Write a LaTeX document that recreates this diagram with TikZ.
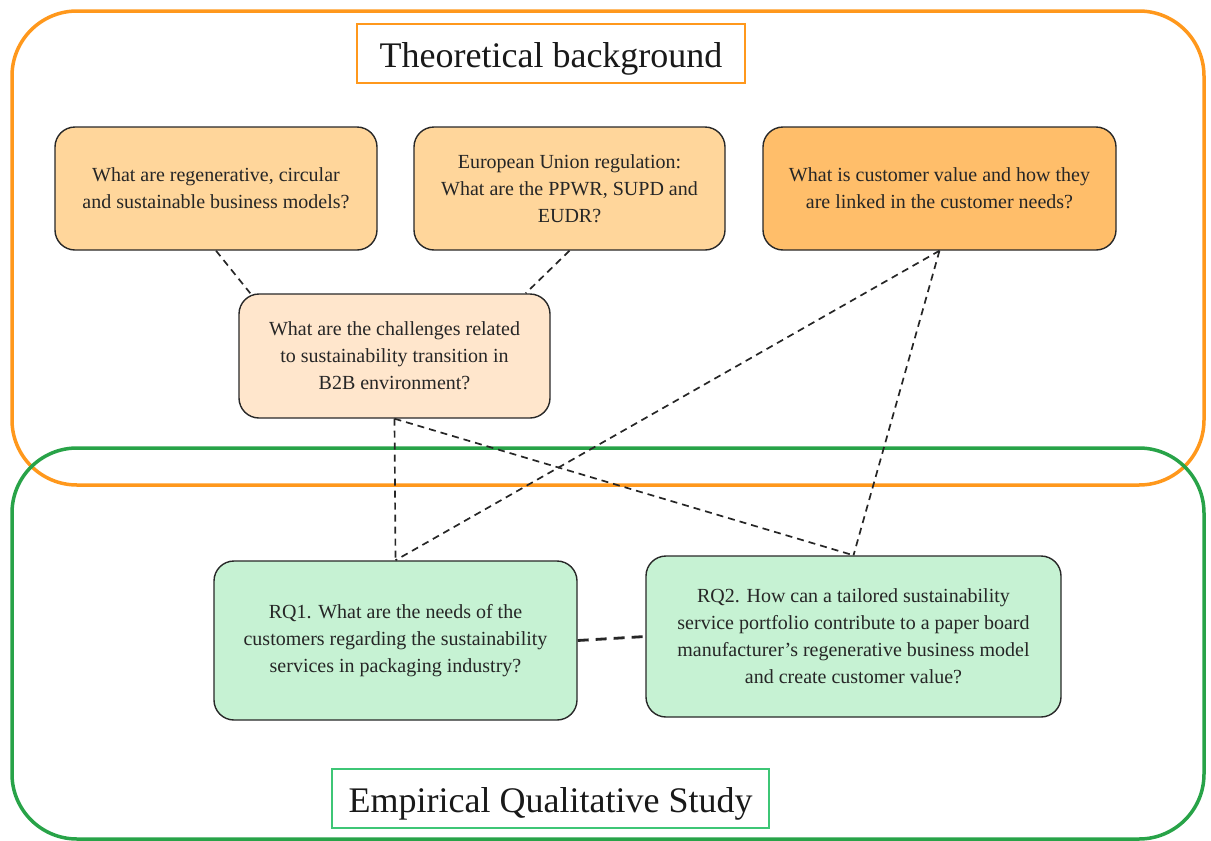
\documentclass[tikz,border=0pt]{standalone}
\usepackage{fontspec}
\setmainfont{Liberation Serif}
\definecolor{outerorange}{RGB}{255,152,28}
\definecolor{outergreen}{RGB}{40,163,72}
\definecolor{titlegreen}{RGB}{62,198,118}
\definecolor{fillA}{RGB}{255,214,155}
\definecolor{fillC}{RGB}{255,190,106}
\definecolor{fillD}{RGB}{255,230,204}
\definecolor{fillG}{RGB}{198,242,211}
\definecolor{edge}{RGB}{40,40,40}
\begin{document}
\begin{tikzpicture}[x=1pt,y=1pt,
  region/.style={line width=3.5pt,rounded corners=65pt},
  qbox/.style={draw=edge,line width=1.4pt,rounded corners=20pt,align=center,inner sep=0pt,
    font=\fontsize{20}{27}\selectfont,text=black!85},
  titlebox/.style={line width=1.3pt,inner sep=0pt,text height=28pt,text depth=0pt,
    font=\fontsize{36}{40}\selectfont,text=black!90},
  link/.style={draw=black!85,line width=1.7pt,dash pattern=on 7pt off 5pt},
  thicklink/.style={draw=black!85,line width=2.8pt,dash pattern=on 11pt off 7pt}]
\useasboundingbox (0,0) rectangle (1211,-841);
% regions
\draw[region,draw=outerorange] (12,-11) rectangle (1204,-485);
\draw[region,draw=outergreen] (12,-448) rectangle (1204,-839);
% titles
\node[titlebox,draw=outerorange,minimum width=388pt,minimum height=59pt] (t1) at (551,-53.5) {Theoretical background};
\node[titlebox,draw=titlegreen,minimum width=437pt,minimum height=59pt] (t2) at (550.5,-798.5) {Empirical Qualitative Study};
% boxes
\node[qbox,fill=fillA,minimum width=322pt,minimum height=123pt] (A) at (216,-188.5)
  {What are regenerative, circular\\and sustainable business models?};
\node[qbox,fill=fillA,minimum width=311pt,minimum height=123pt] (B) at (569.5,-188.5)
  {European Union regulation:\\What are the PPWR, SUPD and\\EUDR?};
\node[qbox,fill=fillC,minimum width=353pt,minimum height=123pt] (C) at (939.5,-188.5)
  {What is customer value and how they\\are linked in the customer needs?};
\node[qbox,fill=fillD,minimum width=311pt,minimum height=124pt] (D) at (394.5,-356)
  {What are the challenges related\\to sustainability transition in\\B2B environment?};
\node[qbox,fill=fillG,minimum width=363pt,minimum height=159pt] (R1) at (395.5,-640.5)
  {RQ1. What are the needs of the\\customers regarding the sustainability\\services in packaging industry?};
\node[qbox,fill=fillG,minimum width=415pt,minimum height=161pt] (R2) at (853.5,-636.5)
  {RQ2. How can a tailored sustainability\\service portfolio contribute to a paper board\\manufacturer's regenerative business model\\and create customer value?};
% connectors
\draw[link] (A.south) -- ([xshift=12pt]D.north west);
\draw[link] (B.south) -- ([xshift=-25pt]D.north east);
\draw[link] (D.south) -- (R1.north);
\draw[link] (D.south) -- (R2.north);
\draw[link] (C.south) -- (R1.north);
\draw[link] (C.south) -- (R2.north);
\draw[thicklink] (R1.east) -- (R2.west);
\end{tikzpicture}
\end{document}
